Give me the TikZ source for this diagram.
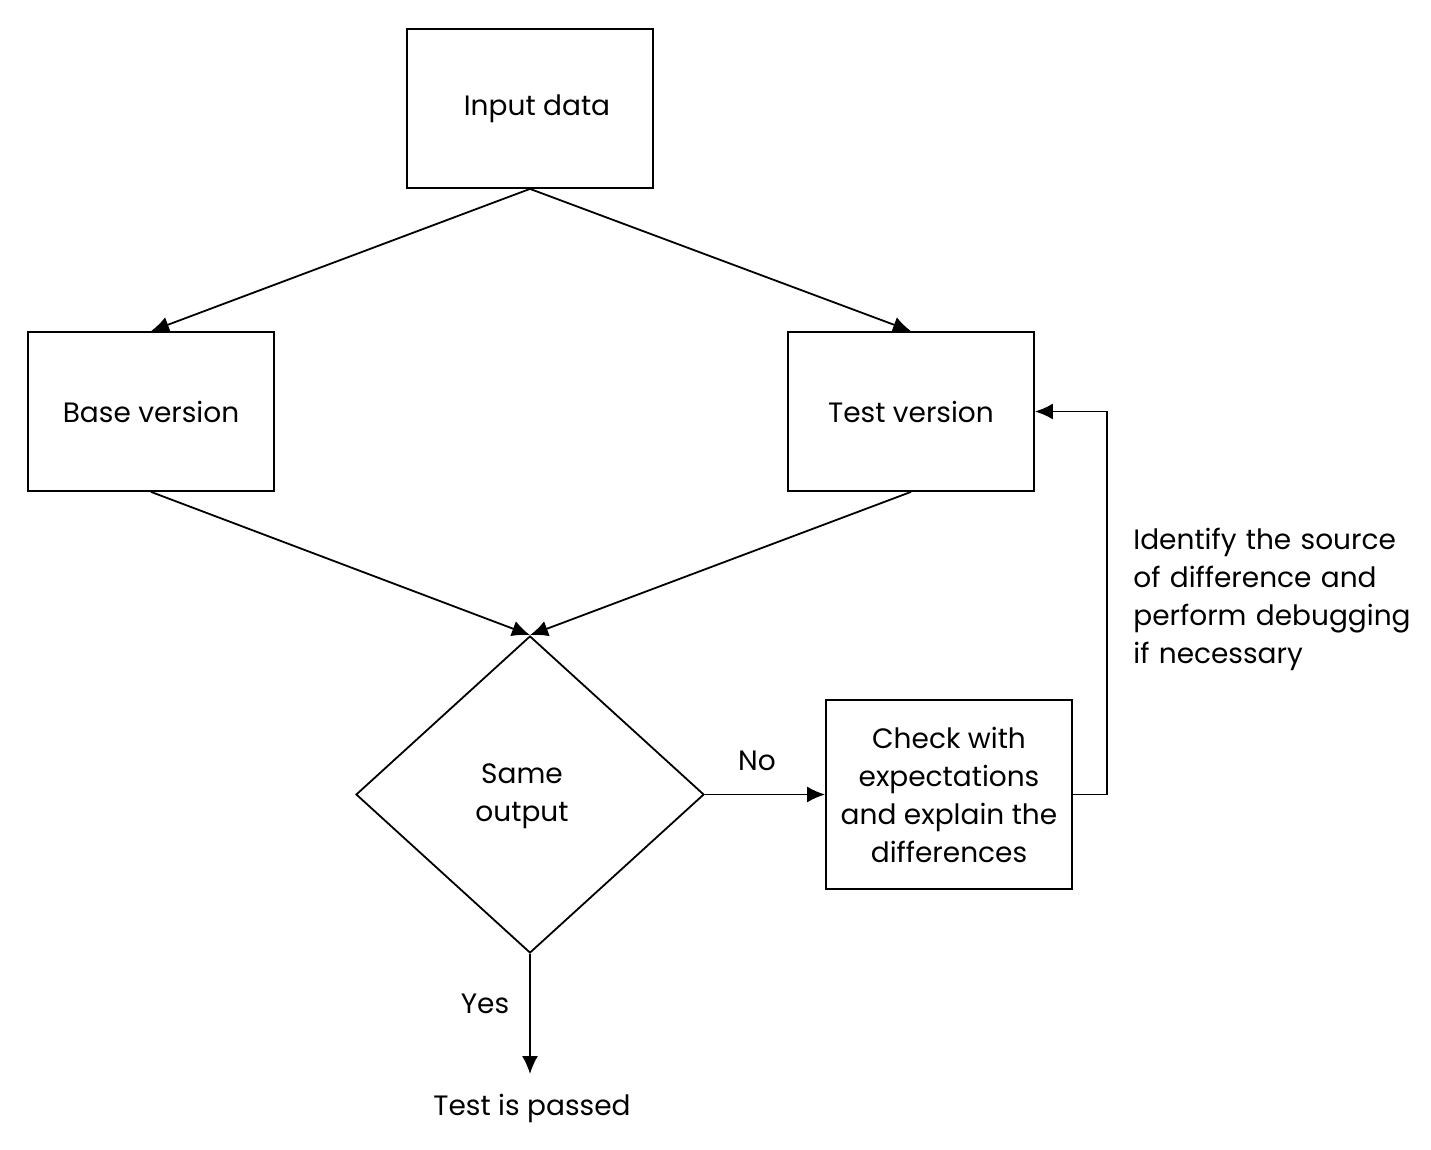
\documentclass[tikz,border=0pt]{standalone}
\usepackage{fontspec}
\setmainfont{Poppins}
\usetikzlibrary{arrows.meta,shapes.geometric}
\begin{document}
\begin{tikzpicture}[x=0.5pt,y=-0.5pt,
  every node/.style={font=\fontsize{14}{19}\selectfont},
  box/.style={draw,line width=0.9pt,minimum width=123pt,minimum height=79.5pt,inner sep=0pt,align=center},
  arr/.style={line width=0.9pt,-{Latex[length=9pt,width=8pt]}},
  lbl/.style={inner sep=0pt}]
\useasboundingbox (0,0) rectangle (1431,1150);
\node[box] (in) at (530,108.5) {\hspace*{7pt}Input data};
\node[box] (base) at (151,411.5) {Base version};
\node[box] (test) at (911,411.5) {Test version};
\node[draw,diamond,line width=0.9pt,minimum width=174pt,minimum height=158.5pt,inner sep=0pt,align=center] (dec) at (530,794.5) {\raisebox{-1.5pt}{\begin{tabular}{@{}c@{}}Same\\output\end{tabular}}\hspace*{8pt}};
\node[box,minimum height=94.5pt] (chk) at (949,794.5) {Check with\\expectations\\and explain the\\differences};
\node[lbl] (pass) at (532,1108) {Test is passed};
\node[lbl] (yes) at (485,1004) {Yes};
\node[lbl] (no) at (757,761) {No};
\node[lbl,align=left,anchor=north west,text width=150pt] (idf) at (1133,528) {Identify the source\\of difference and\\perform debugging\\if necessary};
\coordinate (ptip) at (530,1074);
\draw[arr] (in.south) -- (base.north);
\draw[arr] (in.south) -- (test.north);
\draw[arr] (base.south) -- (dec.north);
\draw[arr] (test.south) -- (dec.north);
\draw[arr] (dec.east) -- (chk.west);
\draw[arr] (dec.south) -- (ptip);
\coordinate (c1) at (1107,794.5);
\coordinate (c2) at (1107,411.5);
\draw[arr] (chk.east) -- (c1) -- (c2) -- (test.east);
\end{tikzpicture}
\end{document}
